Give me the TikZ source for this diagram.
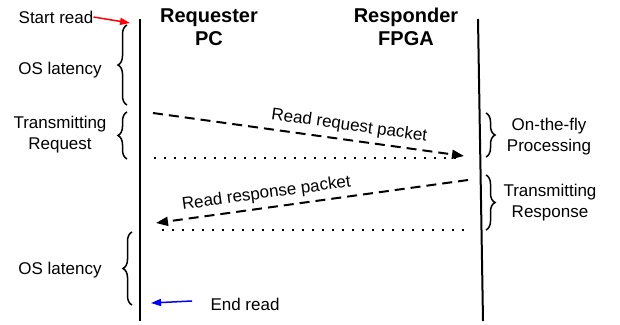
\documentclass[tikz,border=0pt]{standalone}
\usepackage{fontspec}
\setmainfont{Liberation Sans}
\usetikzlibrary{arrows.meta,decorations.pathreplacing}
\begin{document}
\begin{tikzpicture}[x=1pt,y=-1pt,
  lbl/.style={font=\fontsize{17}{21}\selectfont, align=center, inner sep=0pt},
  hdr/.style={font=\fontsize{20}{23}\selectfont\bfseries, align=center, inner sep=0pt},
  life/.style={line width=2pt},
  msg/.style={line width=2pt, dash pattern=on 10pt off 6pt, -{Triangle[length=12pt,width=9pt]}},
  dotline/.style={line width=1.8pt, dash pattern=on 1.8pt off 8.2pt},
  brc/.style={decorate, decoration={brace, amplitude=9pt}, line width=1.5pt},
  pointer/.style={line width=1.5pt, -{Triangle[length=10pt,width=7pt]}}]
\useasboundingbox (0,0) rectangle (620,324);
% lifelines
\coordinate (Ltop) at (140,19);
\coordinate (Lbot) at (140,321);
\coordinate (Rtop) at (478,19);
\coordinate (Rbot) at (483,321);
\draw[life] (Ltop) -- (Lbot);
\draw[life] (Rtop) -- (Rbot);
% headers
\node[hdr] (req) at (209,27) {Requester\\PC};
\node[hdr] (resp) at (406,27) {Responder\\FPGA};
% start / end read
\node[lbl] (start) at (56,17) {Start read};
\coordinate (startTip) at (130,23);
\draw[pointer, red] (start.east) -- (startTip);
\node[lbl] (end) at (245,304) {End read};
\coordinate (endFrom) at (192,301);
\coordinate (endTip) at (151,303);
\draw[pointer, blue] (endFrom) -- (endTip);
% left annotations
\node[lbl] (os1) at (60,70) {OS latency};
\coordinate (b1a) at (127,105);
\coordinate (b1b) at (127,25);
\draw[brc] (b1a) -- (b1b);
\node[lbl] (treq) at (60,135) {Transmitting\\Request};
\coordinate (b2a) at (127,159);
\coordinate (b2b) at (127,112);
\draw[brc] (b2a) -- (b2b);
\node[lbl] (os2) at (60,270) {OS latency};
\coordinate (b3a) at (132,305);
\coordinate (b3b) at (132,232);
\draw[brc] (b3a) -- (b3b);
% right annotations
\node[lbl] (otf) at (549,137) {On-the-fly\\Processing};
\coordinate (b4a) at (486,113);
\coordinate (b4b) at (486,157);
\draw[brc] (b4a) -- (b4b);
\node[lbl] (tresp) at (550,203) {Transmitting\\Response};
\coordinate (b5a) at (486,175);
\coordinate (b5b) at (486,230);
\draw[brc] (b5a) -- (b5b);
% messages
\coordinate (m1a) at (153,113);
\coordinate (m1b) at (464,156);
\draw[msg] (m1a) -- node[lbl, sloped, above=5pt, pos=0.625] (m1l) {Read request packet} (m1b);
\coordinate (d1a) at (154,158);
\coordinate (d1b) at (462,158);
\draw[dotline] (d1a) -- (d1b);
\coordinate (m2a) at (468,180);
\coordinate (m2b) at (156,223);
\draw[msg] (m2a) -- node[lbl, sloped, above=5pt, pos=0.64] (m2l) {Read response packet} (m2b);
\coordinate (d2a) at (162,230);
\coordinate (d2b) at (470,230);
\draw[dotline] (d2a) -- (d2b);
\end{tikzpicture}
\end{document}
